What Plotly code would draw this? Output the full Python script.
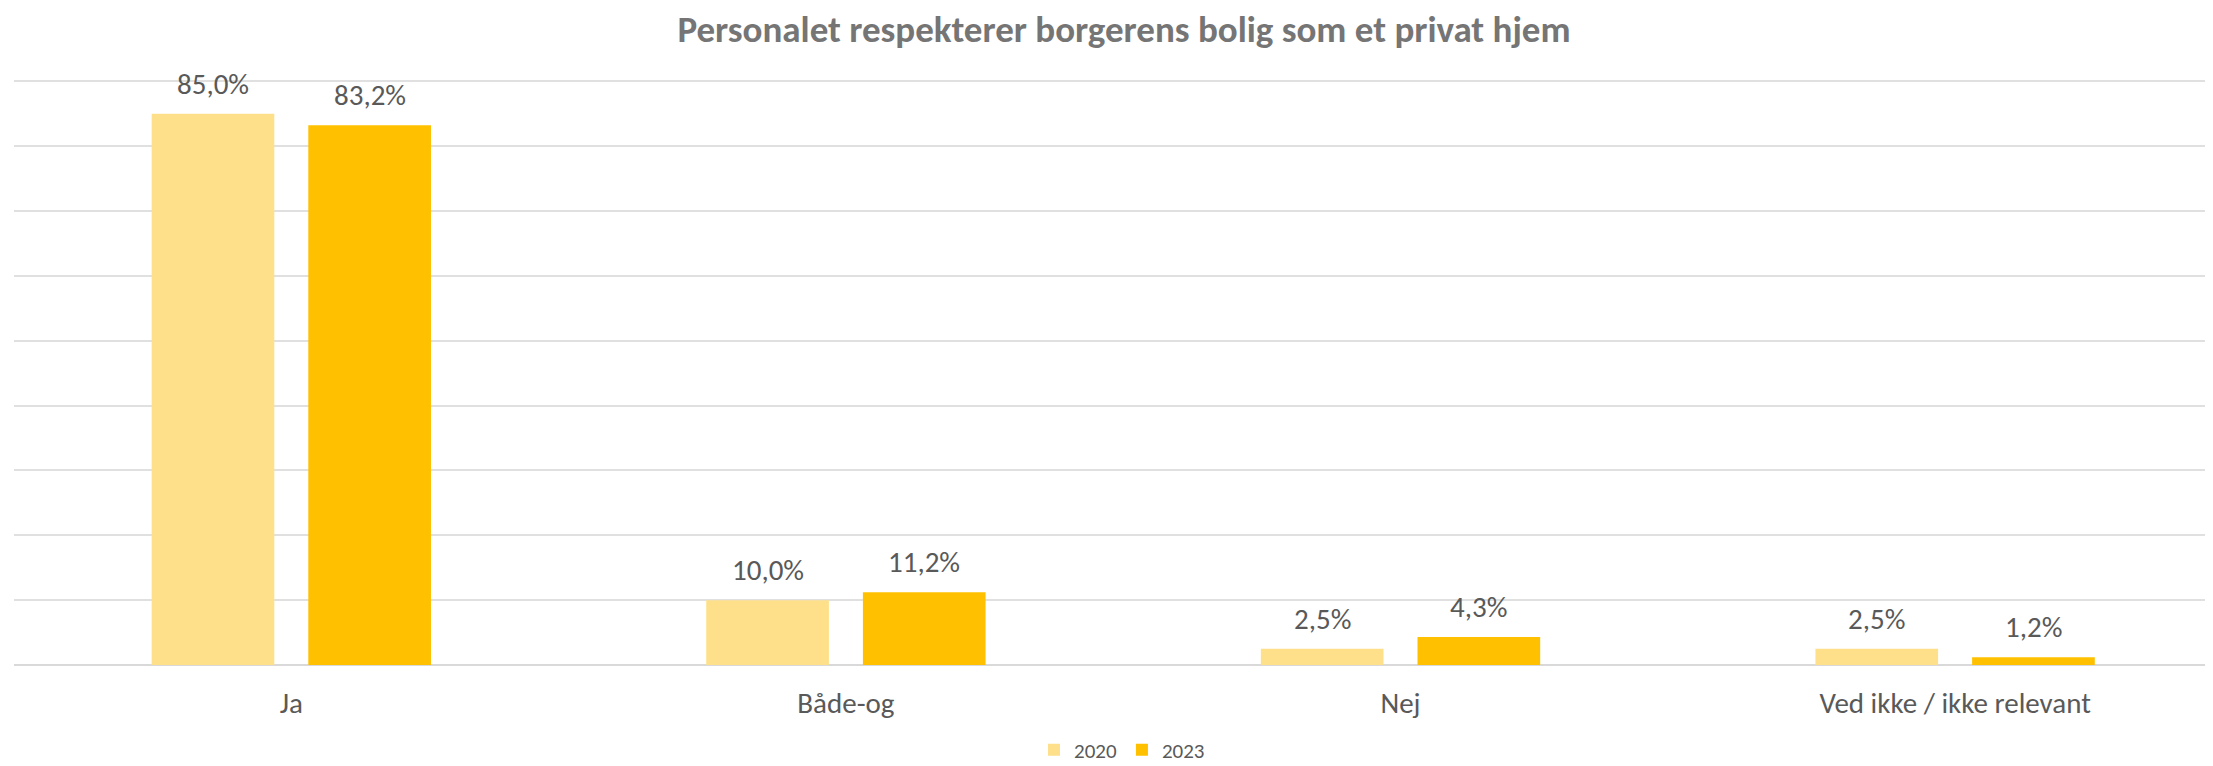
import plotly.graph_objects as go

categories = ["Ja", "Både-og", "Nej", "Ved ikke / ikke relevant"]
series_names = ["2020", "2023"]
values_2020 = [85.0, 10.0, 2.5, 2.5]
values_2023 = [83.2, 11.2, 4.3, 1.2]
colors = ["#FFE08A", "#FFC000"]
title_text = "Personalet respekterer borgerens bolig som et privat hjem"

FONT = "Calibri, Carlito, Lato, sans-serif"
W, H = 2205, 758  # page body has an 8px default margin

fig = go.Figure()
for name, vals, col in zip(series_names, [values_2020, values_2023], colors):
    fig.add_trace(go.Bar(
        x=categories, y=vals, name=name,
        marker=dict(color=col, line=dict(width=0)),
        hoverinfo="skip",
    ))

def fmt(v):
    return f"{v:.1f}".replace(".", ",") + "%"

annotations = []
for shift, vals in zip([-78.4, 78.4], [values_2020, values_2023]):
    for c, v in zip(categories, vals):
        annotations.append(dict(
            x=c, y=v, xref="x", yref="y", text=fmt(v), showarrow=False,
            xshift=shift, yshift=30, yanchor="middle",
            font=dict(family=FONT, size=29, color="#595959"),
        ))

fig.update_layout(
    width=W, height=H,
    paper_bgcolor="white", plot_bgcolor="white",
    margin=dict(l=6, r=0, t=70, b=101, autoexpand=False),
    barmode="group", bargap=0.435, bargroupgap=0.217,
    title=dict(text=title_text, x=1116 / W, xref="container", xanchor="center",
               y=1 - 21 / H, yref="container", yanchor="middle",
               font=dict(family=FONT, size=37, color="#757575", weight="bold")),
    xaxis=dict(range=[-0.5, 3.465], showgrid=False, showline=False, zeroline=False,
               ticks="", tickfont=dict(family=FONT, size=29, color="#595959"),
               ticklabelstandoff=18),
    yaxis=dict(range=[0, 90.5], tick0=0, dtick=10, showticklabels=False, showgrid=True,
               gridcolor="#E0E0E0", gridwidth=2, zeroline=True, zerolinecolor="#D9D9D9",
               zerolinewidth=2, showline=False),
    legend=dict(orientation="h", xref="container", yref="container",
                x=1114 / W, xanchor="center", y=16 / H, yanchor="middle",
                font=dict(family=FONT, size=21, color="#595959"),
                itemwidth=30, traceorder="normal"),
    annotations=annotations,
)

fig.write_html("out.html")
